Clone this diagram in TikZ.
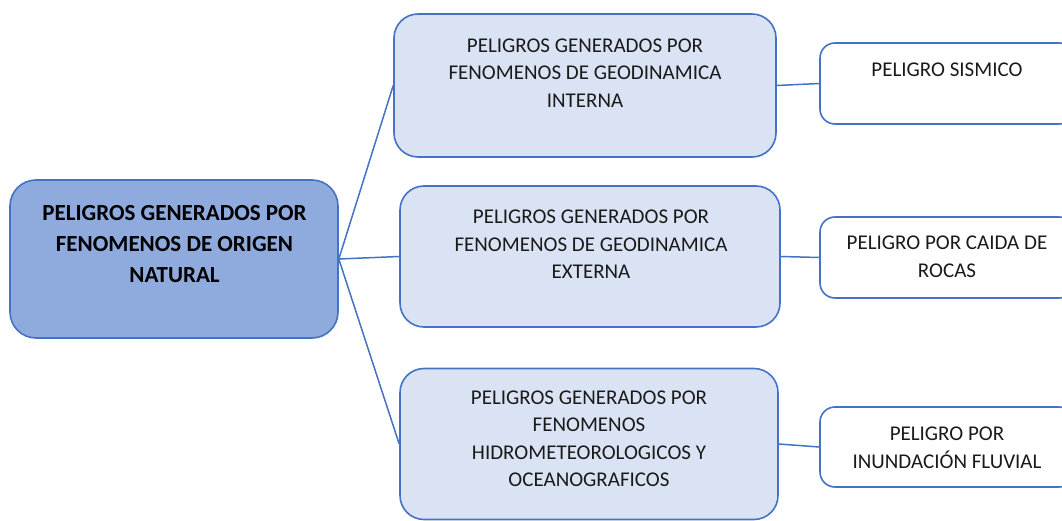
\documentclass[tikz,border=0pt]{standalone}
\usepackage{fontspec}
\setmainfont{Carlito}
\definecolor{edge}{HTML}{4472C4}
\definecolor{rootfill}{HTML}{8FAADC}
\definecolor{midfill}{HTML}{DAE3F3}
\definecolor{txt}{HTML}{1A1A1A}
\begin{document}
\begin{tikzpicture}[x=1pt,y=-1pt,
  rootbox/.style={draw=edge,fill=rootfill,line width=1.6pt,rounded corners=26pt,inner sep=0pt},
  midbox/.style={draw=edge,fill=midfill,line width=1.6pt,rounded corners=24pt,inner sep=0pt},
  leafbox/.style={draw=edge,fill=white,line width=1.6pt,rounded corners=15pt,inner sep=0pt},
  roottext/.style={align=center,text=black,inner sep=0pt,font=\fontsize{23}{31}\selectfont\bfseries},
  boxtext/.style={align=center,text=txt,inner sep=0pt,font=\fontsize{21}{27.5}\selectfont},
  link/.style={draw=edge,line width=1.5pt}]
\useasboundingbox (0,0) rectangle (1062,521);
\clip (0,0) rectangle (1062,521);
% boxes
\node[rootbox,minimum width=328pt,minimum height=158pt] (root) at (174,259) {};
\node[midbox,minimum width=382pt,minimum height=143pt] (A) at (585,85.5) {};
\node[midbox,minimum width=380pt,minimum height=141pt] (B) at (590,256.5) {};
\node[midbox,minimum width=378pt,minimum height=151pt] (C) at (589,444) {};
\node[leafbox,minimum width=254pt,minimum height=81pt] (D) at (947,83.5) {};
\node[leafbox,minimum width=254pt,minimum height=81pt] (E) at (947,257.5) {};
\node[leafbox,minimum width=254pt,minimum height=80pt] (F) at (947,447) {};
% texts
\node[roottext] (rootT) at (174.5,244) {PELIGROS GENERADOS POR\\FENOMENOS DE ORIGEN\\NATURAL};
\node[boxtext] (AT) at (585,73) {PELIGROS GENERADOS POR\\FENOMENOS DE GEODINAMICA\\INTERNA};
\node[boxtext] (BT) at (591,244.5) {PELIGROS GENERADOS POR\\FENOMENOS DE GEODINAMICA\\EXTERNA};
\node[boxtext] (CT) at (589,439) {PELIGROS GENERADOS POR\\FENOMENOS\\HIDROMETEOROLOGICOS Y\\OCEANOGRAFICOS};
\node[boxtext] (DT) at (947,70) {PELIGRO SISMICO};
\node[boxtext] (ET) at (947,257) {PELIGRO POR CAIDA DE\\ROCAS};
\node[boxtext] (FT) at (947,448) {PELIGRO POR\\INUNDACIÓN FLUVIAL};
% connectors
\draw[link] (root.east) -- (A.west);
\draw[link] (root.east) -- (B.west);
\draw[link] (root.east) -- (C.west);
\draw[link] (A.east) -- (D.west);
\draw[link] (B.east) -- (E.west);
\draw[link] (C.east) -- (F.west);
\end{tikzpicture}
\end{document}
